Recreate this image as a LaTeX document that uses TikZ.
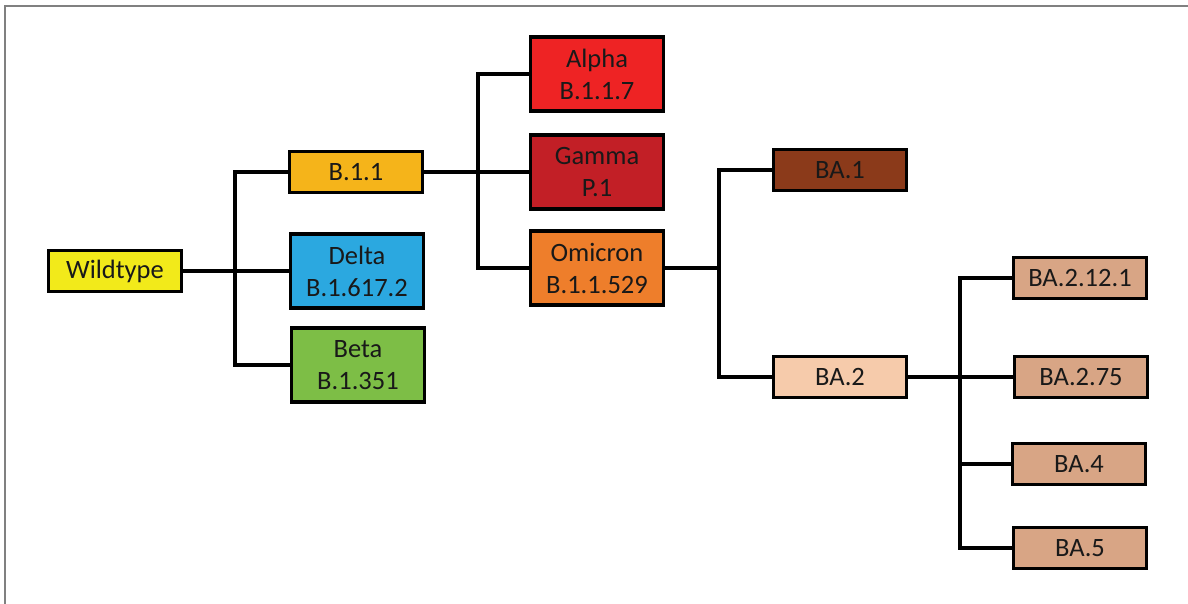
\documentclass[tikz,border=0pt]{standalone}
\usepackage{fontspec}
\setmainfont{Carlito}
\definecolor{cWild}{HTML}{F2EA1A}
\definecolor{cB11}{HTML}{F5B41A}
\definecolor{cDelta}{HTML}{2BA8E0}
\definecolor{cBeta}{HTML}{7DBE46}
\definecolor{cAlpha}{HTML}{EE2324}
\definecolor{cGamma}{HTML}{C21F26}
\definecolor{cOmi}{HTML}{EE7E2B}
\definecolor{cBAone}{HTML}{8B3A1A}
\definecolor{cBAtwo}{HTML}{F6CBAB}
\definecolor{cBAsub}{HTML}{D8A585}
\definecolor{cFrame}{HTML}{808080}
\begin{document}
\begin{tikzpicture}[x=1pt,y=-1pt,
  box/.style={draw=black, line width=3.5pt, minimum width=133pt, minimum height=41pt,
    inner sep=0pt, font=\fontsize{26.5}{32}\selectfont, align=center, text=black!90},
  tall/.style={box, minimum height=74pt},
  link/.style={line width=3.5pt, line cap=rect},
  frame/.style={draw=cFrame, line width=2pt}]
\useasboundingbox (0,0) rectangle (1188,604);
\draw[frame] (5,604) -- (5,6) -- (1188,6);

\node[box, fill=cWild] (wt) at (115,271) {Wildtype};
\node[box, fill=cB11] (b11) at (356,172) {B.1.1};
\node[tall, fill=cDelta] (delta) at (357,271) {Delta\\B.1.617.2};
\node[tall, fill=cBeta] (beta) at (358,365) {Beta\\B.1.351};
\node[tall, fill=cAlpha] (alpha) at (597,74) {Alpha\\B.1.1.7};
\node[tall, fill=cGamma] (gamma) at (597,172) {Gamma\\P.1};
\node[tall, fill=cOmi] (omi) at (597,268) {Omicron\\B.1.1.529};
\node[box, fill=cBAone] (ba1) at (840,170) {BA.1};
\node[box, fill=cBAtwo] (ba2) at (840,377) {BA.2};
\node[box, fill=cBAsub] (ba2121) at (1080,278) {BA.2.12.1};
\node[box, fill=cBAsub] (ba275) at (1081,377) {BA.2.75};
\node[box, fill=cBAsub] (ba4) at (1079,464) {BA.4};
\node[box, fill=cBAsub] (ba5) at (1080,548) {BA.5};

\coordinate (s1) at (235,271);
\coordinate (s2) at (478,172);
\coordinate (s3) at (719,268);
\coordinate (s4) at (960,377);

\draw[link] (wt.east) -- (s1) -- (delta.west);
\draw[link] (b11.west) -| (s1);
\draw[link] (beta.west) -| (s1);
\draw[link] (b11.east) -- (s2) -- (gamma.west);
\draw[link] (alpha.west) -| (s2);
\draw[link] (omi.west) -| (s2);
\draw[link] (omi.east) -- (s3);
\draw[link] (ba1.west) -| (s3);
\draw[link] (ba2.west) -| (s3);
\draw[link] (ba2.east) -- (s4) -- (ba275.west);
\draw[link] (ba2121.west) -| (s4);
\draw[link] (ba4.west) -| (s4);
\draw[link] (ba5.west) -| (s4);
\end{tikzpicture}
\end{document}
